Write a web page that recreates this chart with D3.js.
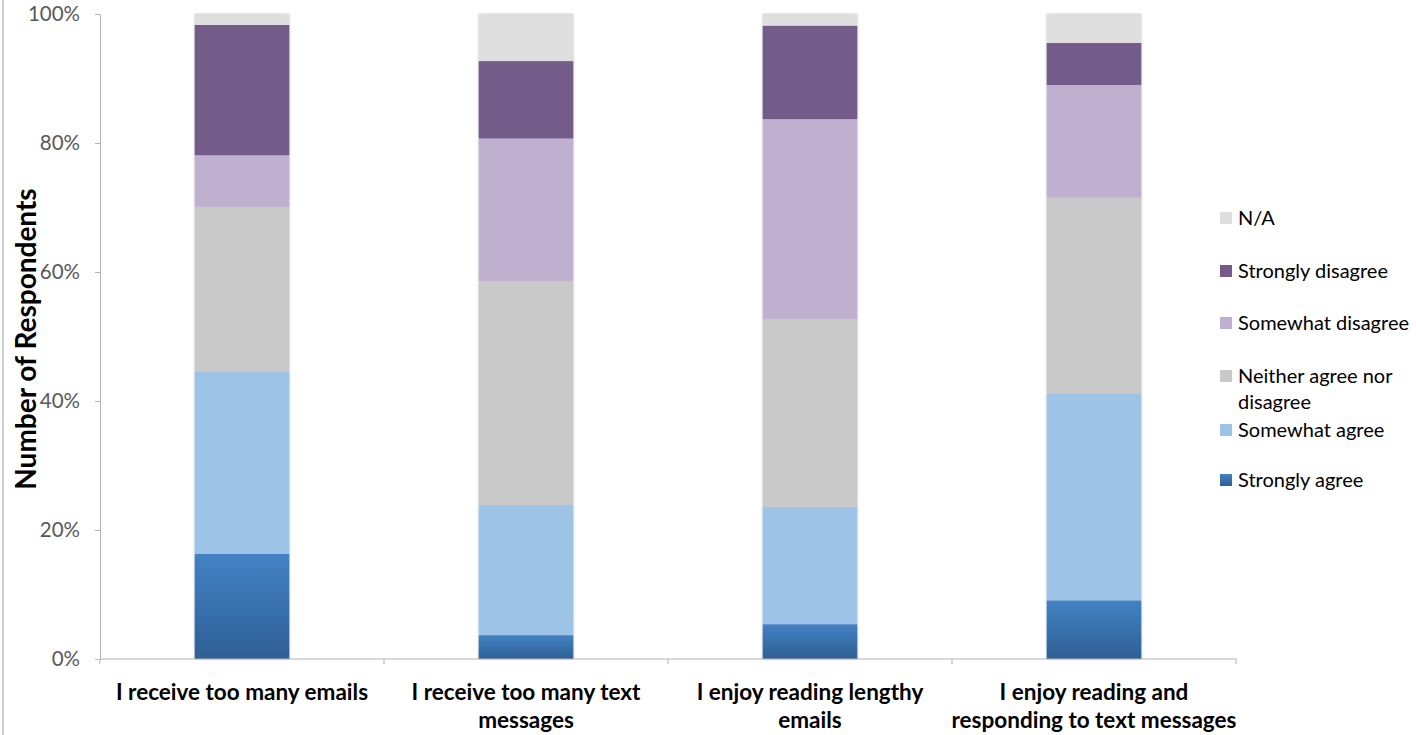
<!DOCTYPE html>
<html>
<head>
<meta charset="utf-8">
<script src="https://cdn.jsdelivr.net/npm/d3@7"></script>
<style>
  html, body { margin: 0; padding: 0; background: #fff; }
  svg { display: block; font-family: Lato, "Open Sans", sans-serif; }
</style>
</head>
<body>
<svg id="chart" width="1416" height="735"></svg>
<script>
// Survey statements (x categories), each drawn as a 100% stacked column
const categories = [
  ["I receive too many emails"],
  ["I receive too many text", "messages"],
  ["I enjoy reading lengthy", "emails"],
  ["I enjoy reading and", "responding to text messages"]
];

// Response shares (%) per statement, bottom to top of each stack
const stronglyAgree    = [16.3,  3.7,  5.4,  9.1];
const somewhatAgree    = [28.2, 20.2, 18.2, 32.1];
const neither          = [25.6, 34.7, 29.1, 30.3];
const somewhatDisagree = [ 8.0, 22.1, 31.0, 17.5];
const stronglyDisagree = [20.2, 12.0, 14.5,  6.5];
const notApplicable    = [ 1.7,  7.3,  1.8,  4.5];

const seriesNames = ["Strongly agree", "Somewhat agree", "Neither agree nor disagree",
                     "Somewhat disagree", "Strongly disagree", "N/A"];
const seriesValues = [stronglyAgree, somewhatAgree, neither,
                      somewhatDisagree, stronglyDisagree, notApplicable];
const seriesColors = ["url(#gradSA)", "#9dc3e6", "#c9c9c9", "#bfb0cf", "#735b8a", "#dedede"];

const yTicks = [0, 20, 40, 60, 80, 100];

const svg = d3.select("#chart");
const defs = svg.append("defs");

const grad = defs.append("linearGradient")
  .attr("id", "gradSA").attr("x1", 0).attr("y1", 0).attr("x2", 0).attr("y2", 1);
grad.append("stop").attr("offset", "0%").attr("stop-color", "#4382c4");
grad.append("stop").attr("offset", "100%").attr("stop-color", "#2e5f95");

const shadow = defs.append("filter").attr("id", "soft")
  .attr("x", "-10%").attr("y", "-5%").attr("width", "120%").attr("height", "110%");
shadow.append("feDropShadow").attr("dx", 0).attr("dy", 0)
  .attr("stdDeviation", 1.3).attr("flood-color", "#000").attr("flood-opacity", 0.25);

// Outer frame edge on the left
svg.append("line").attr("x1", 3).attr("x2", 3).attr("y1", 0).attr("y2", 735)
  .attr("stroke", "#b0b0b0").attr("stroke-width", 1.2);

const plotLeft = 100, plotRight = 1236, plotTop = 14, plotBottom = 659;

const x = d3.scaleBand()
  .domain(d3.range(categories.length))
  .range([plotLeft, plotRight])
  .paddingInner(2 / 3).paddingOuter(1 / 3);

const y = d3.scaleLinear().domain([0, 100]).range([plotBottom, plotTop]);

// Stack the series
const rows = categories.map((c, i) => {
  const r = { idx: i };
  seriesNames.forEach((n, k) => r[n] = seriesValues[k][i]);
  return r;
});
const stacked = d3.stack().keys(seriesNames)(rows);

const barsG = svg.append("g");
const groups = barsG.selectAll("g.bar")
  .data(categories.map((c, i) => i))
  .join("g").attr("class", "bar").attr("filter", "url(#soft)");

groups.selectAll("rect")
  .data(i => stacked.map((layer, k) => ({ k, d: layer[i], i })))
  .join("rect")
  .attr("x", d => x(d.i))
  .attr("width", x.bandwidth())
  .attr("y", d => y(d.d[1]))
  .attr("height", d => y(d.d[0]) - y(d.d[1]))
  .attr("fill", d => seriesColors[d.k]);

// Y axis
const yAxis = svg.append("g")
  .attr("transform", `translate(${plotLeft},0)`)
  .call(d3.axisLeft(y).tickValues(yTicks).tickFormat(d => d + "%").tickSize(5).tickSizeOuter(0).tickPadding(15));
yAxis.select(".domain").attr("stroke", "#b3b3b3");
yAxis.selectAll(".tick line").attr("stroke", "#b3b3b3");
yAxis.selectAll(".tick text").attr("fill", "#595959").attr("font-size", 20.5)
  .attr("font-family", "Lato, sans-serif");

// X axis baseline with boundary ticks between categories
const xAxisG = svg.append("g");
xAxisG.append("line").attr("x1", plotLeft).attr("x2", plotRight)
  .attr("y1", plotBottom).attr("y2", plotBottom).attr("stroke", "#b3b3b3");
const step = x.step();
xAxisG.selectAll("line.tk")
  .data(d3.range(categories.length + 1))
  .join("line").attr("class", "tk")
  .attr("x1", i => plotLeft + i * step).attr("x2", i => plotLeft + i * step)
  .attr("y1", plotBottom).attr("y2", plotBottom + 5).attr("stroke", "#b3b3b3");

// Category labels
const labels = svg.append("g").selectAll("text")
  .data(categories.map((c, i) => ({ c, i })))
  .join("text")
  .attr("x", d => x(d.i) + x.bandwidth() / 2)
  .attr("y", 700)
  .attr("text-anchor", "middle")
  .attr("font-size", 22.5).attr("font-weight", "bold").attr("fill", "#000");
labels.selectAll("tspan")
  .data(d => d.c)
  .join("tspan")
  .attr("x", function () { return d3.select(this.parentNode).attr("x"); })
  .attr("dy", (t, j) => j === 0 ? 0 : 28)
  .text(t => t);

// Y axis title
svg.append("text")
  .attr("transform", "translate(36,339) rotate(-90)")
  .attr("text-anchor", "middle")
  .attr("font-size", 28).attr("font-weight", "bold").attr("fill", "#000")
  .text("Number of Respondents");

// Legend (top entry is the top of the stack)
const legendItems = [
  { k: 5, lines: ["N/A"], cy: 218 },
  { k: 4, lines: ["Strongly disagree"], cy: 271 },
  { k: 3, lines: ["Somewhat disagree"], cy: 323 },
  { k: 2, lines: ["Neither agree nor", "disagree"], cy: 376 },
  { k: 1, lines: ["Somewhat agree"], cy: 430 },
  { k: 0, lines: ["Strongly agree"], cy: 480 }
];
const lg = svg.append("g").selectAll("g").data(legendItems).join("g");
lg.append("rect")
  .attr("x", 1220).attr("y", d => d.cy - 6).attr("width", 12).attr("height", 12)
  .attr("fill", d => seriesColors[d.k]);
const lt = lg.append("text")
  .attr("x", 1238).attr("y", d => d.cy + 7)
  .attr("font-size", 20).attr("fill", "#000");
lt.selectAll("tspan").data(d => d.lines).join("tspan")
  .attr("x", 1238).attr("dy", (t, j) => j === 0 ? 0 : 26).text(t => t);
</script>
</body>
</html>
